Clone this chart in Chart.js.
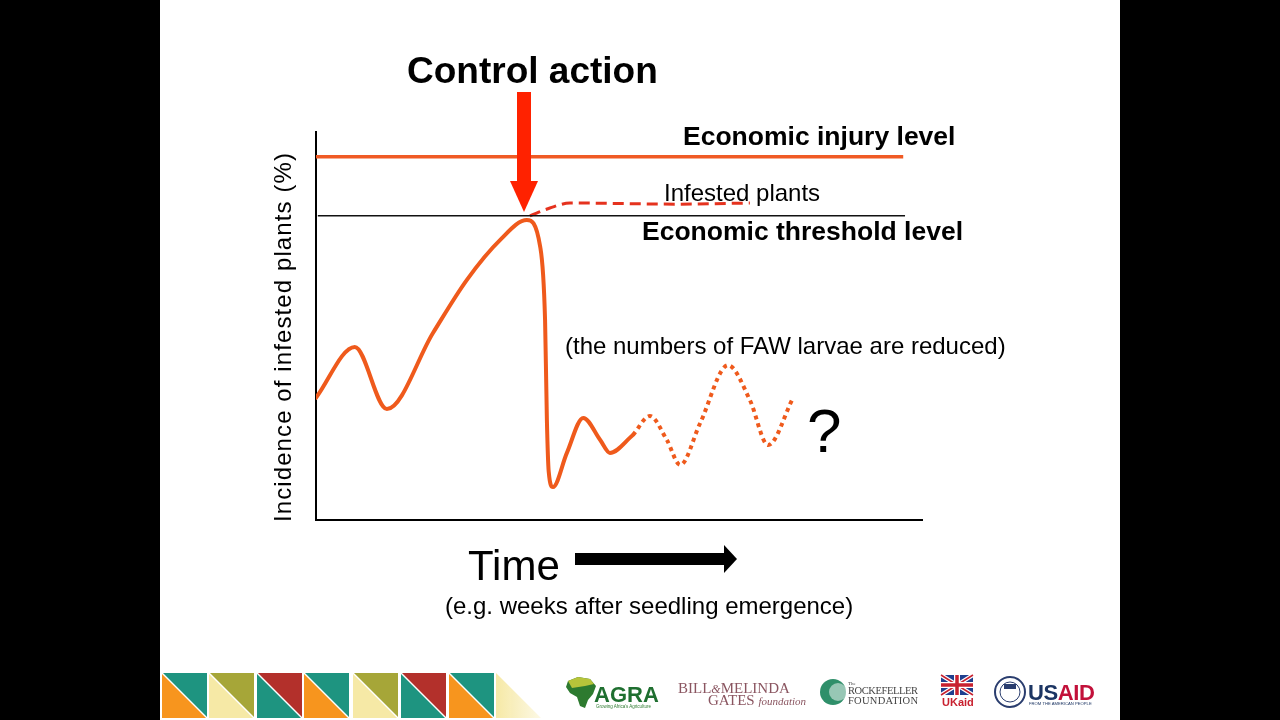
<!DOCTYPE html>
<html><head><meta charset="utf-8">
<script src="https://cdn.jsdelivr.net/npm/chart.js@4.4.1/dist/chart.umd.min.js"></script>
<style>
html,body{margin:0;padding:0;width:1280px;height:720px;overflow:hidden;background:#000;}
#slide{position:absolute;left:160px;top:0;width:960px;height:720px;background:#fff;}
#c{position:absolute;left:0;top:0;}
.t{position:absolute;white-space:nowrap;line-height:1;font-family:"Liberation Sans",Arial,sans-serif;color:#000;}
svg{position:absolute;left:0;top:0;}
</style></head><body>
<div id="slide"></div>
<canvas id="c" width="1280" height="720"></canvas>
<svg width="1280" height="720" id="deco">
  <!-- control action arrow -->
  <rect x="517" y="92" width="14" height="90" fill="#ff2200"/>
  <polygon points="510,181 538,181 524,212" fill="#ff2200"/>
  <!-- time arrow -->
  <rect x="575" y="553" width="151" height="12" fill="#000"/>
  <polygon points="724,545 724,573 737,559" fill="#000"/>
</svg>
<div class="t" id="ctrl" style="left:407px;top:52px;font-size:37px;font-weight:bold;">Control action</div>
<div class="t" style="left:683px;top:123px;font-size:26.5px;font-weight:bold;">Economic injury level</div>
<div class="t" style="left:642px;top:218px;font-size:26.5px;font-weight:bold;">Economic threshold level</div>
<div class="t" style="left:664px;top:181px;font-size:24px;">Infested plants</div>
<div class="t" style="left:565px;top:334px;font-size:24px;">(the numbers of FAW larvae are reduced)</div>
<div class="t" style="left:807px;top:400px;font-size:62px;">?</div>
<div class="t" style="left:468px;top:545px;font-size:42px;">Time</div>
<div class="t" style="left:445px;top:594px;font-size:24px;">(e.g. weeks after seedling emergence)</div>
<div class="t" style="left:283px;top:337px;font-size:24px;letter-spacing:1.1px;transform:translate(-50%,-50%) rotate(-90deg);">Incidence of infested plants (%)</div>

<svg width="1280" height="720" id="footer">
  <defs>
    <linearGradient id="fade" x1="0" x2="1" y1="0" y2="0">
      <stop offset="0" stop-color="#f6e9a6"/>
      <stop offset="1" stop-color="#f6e9a6" stop-opacity="0.3"/>
    </linearGradient>
  </defs>
  <g id="tri"></g>
  <polygon points="496,673 496,718 541,718" fill="url(#fade)"/>
  <!-- AGRA -->
  <path d="M568,681 L578,677 L590,679 L596,686 L593,694 L588,700 L585,708 L580,706 L577,697 L570,693 L566,687 Z" fill="#2d7a2f"/>
  <path d="M568,681 L578,677 L590,679 L594,684 L585,686 L572,688 Z" fill="#b7c43a"/>
  <text x="594" y="702" font-family="Liberation Sans,Arial" font-weight="bold" font-size="22" fill="#1f6f30">AGRA</text>
  <text x="596" y="708" font-family="Liberation Sans,Arial" font-size="4.5" fill="#2d7a2f">Growing Africa's Agriculture</text>
  <!-- Gates -->
  <text x="678" y="693" font-family="Liberation Serif,serif" font-size="15" fill="#8a5560">BILL<tspan font-style="italic" font-size="12">&amp;</tspan>MELINDA</text>
  <text x="708" y="705" font-family="Liberation Serif,serif" font-size="15" fill="#8a5560">GATES <tspan font-style="italic" font-size="11">foundation</tspan></text>
  <!-- Rockefeller -->
  <circle cx="833" cy="692" r="13" fill="#2f8f6a"/>
  <circle cx="838" cy="692" r="9" fill="#ffffff" fill-opacity="0.5"/>
  <text x="848" y="685" font-family="Liberation Serif,serif" font-size="5" fill="#444">The</text>
  <text x="848" y="694" font-family="Liberation Serif,serif" font-size="10.5" fill="#444" textLength="70">ROCKEFELLER</text>
  <text x="848" y="704" font-family="Liberation Serif,serif" font-size="10.5" fill="#444" textLength="70">FOUNDATION</text>
  <!-- UKaid -->
  <rect x="941" y="675" width="32" height="20" fill="#1f3f8f"/>
  <path d="M941,675 L973,695 M973,675 L941,695" stroke="#fff" stroke-width="4"/>
  <path d="M941,675 L973,695 M973,675 L941,695" stroke="#c8202f" stroke-width="1.5"/>
  <path d="M957,675 V695 M941,685 H973" stroke="#fff" stroke-width="6"/>
  <path d="M957,675 V695 M941,685 H973" stroke="#c8202f" stroke-width="3.5"/>
  <text x="942" y="706" font-family="Liberation Sans,Arial" font-weight="bold" font-size="11" fill="#c8202f">UKaid</text>
  <!-- USAID -->
  <circle cx="1010" cy="692" r="15" fill="#fff" stroke="#2a3d6e" stroke-width="2"/>
  <circle cx="1010" cy="692" r="10" fill="#fff" stroke="#2a3d6e" stroke-width="1"/>
  <rect x="1004" y="684" width="12" height="5" fill="#2a3d6e"/>
  <text x="1028" y="700" font-family="Liberation Sans,Arial" font-weight="bold" font-size="22" fill="#1c3563" textLength="67">US<tspan fill="#c2113a">AID</tspan></text>
  <text x="1029" y="705" font-family="Liberation Sans,Arial" font-size="4.2" fill="#1c3563">FROM THE AMERICAN PEOPLE</text>
</svg>

<script>
// ---- data (time in arbitrary units 0-100, incidence in % 0-100) ----
const solidTime      = [0, 6.4, 11.7, 19.3, 24.9, 30.4, 34.8, 37.0, 37.8, 38.1, 38.4, 39.1, 41.4, 44.1, 46.9, 48.5, 52.3];
const solidIncidence = [31.5, 44.6, 28.6, 48.2, 61.9, 72.2, 77.3, 70.4, 51.5, 25.8, 12.5, 8.5, 17.3, 26.3, 20.6, 17.3, 21.9];
const dottedTime      = [52.3, 55.1, 57.9, 60.1, 63.4, 68.0, 71.6, 74.6, 78.7];
const dottedIncidence = [21.9, 26.8, 20.6, 14.2, 25.0, 39.9, 30.9, 19.3, 31.4];
const dashedTime      = [35.3, 38.6, 41.9, 60.1, 71.6];
const dashedIncidence = [78.4, 80.4, 81.7, 81.4, 81.7];
const injuryTime      = [0, 96.9];
const injuryLevel     = [93.6, 93.6];
const thresholdTime   = [0.3, 97.2];
const thresholdLevel  = [78.4, 78.4];

// ---- triangles footer ----
const triColorsTop    = ['#1e9480','#a6a638','#b3302b','#1e9480','#a6a638','#b3302b','#1e9480'];
const triColorsBottom = ['#f7951e','#f6e9a6','#1e9480','#f7951e','#f6e9a6','#1e9480','#f7951e'];
(function(){
  const g = document.getElementById('tri');
  const xs = [162,209,257,304,353,401,449];
  let s = '';
  xs.forEach((x,i)=>{
    s += `<polygon points="${x},673 ${x+45},673 ${x+45},718" fill="${triColorsTop[i]}"/>`;
    s += `<polygon points="${x},673 ${x},718 ${x+45},718" fill="${triColorsBottom[i]}"/>`;
    s += `<line x1="${x}" y1="673" x2="${x+45}" y2="718" stroke="#fff" stroke-width="1.5"/>`;
  });
  g.innerHTML = s;
})();

const zip = (xs, ys) => xs.map((x,i)=>({x, y: ys[i]}));
const ORANGE = '#ef5a1c';

new Chart(document.getElementById('c'), {
  type: 'line',
  data: {
    datasets: [
      { label: 'Economic injury level', data: zip(injuryTime, injuryLevel), borderColor: '#f05a24', borderWidth: 3.5, pointRadius: 0, tension: 0 },
      { label: 'Economic threshold level', data: zip(thresholdTime, thresholdLevel), borderColor: '#111', borderWidth: 1.6, pointRadius: 0, tension: 0 },
      { label: 'Infested plants (no control)', data: zip(dashedTime, dashedIncidence), borderColor: '#e5321e', borderWidth: 3, borderDash: [11, 6], pointRadius: 0, cubicInterpolationMode: 'monotone' },
      { label: 'Infested plants', data: zip(solidTime, solidIncidence), borderColor: ORANGE, borderWidth: 4, pointRadius: 0, cubicInterpolationMode: 'monotone', borderCapStyle: 'round', borderJoinStyle: 'round' },
      { label: 'Infested plants (uncertain)', data: zip(dottedTime, dottedIncidence), borderColor: ORANGE, borderWidth: 4, borderDash: [4, 4], pointRadius: 0, cubicInterpolationMode: 'monotone' }
    ]
  },
  options: {
    responsive: false,
    animation: false,
    devicePixelRatio: 1,
    layout: { padding: { left: 308, right: 358, top: 132, bottom: 192 } },
    plugins: { legend: { display: false }, tooltip: { enabled: false } },
    scales: {
      x: { type: 'linear', min: 0, max: 100, grid: { display: false },
           ticks: { display: false }, border: { display: true, color: '#000', width: 2 } },
      y: { type: 'linear', min: 0, max: 100, grid: { display: false },
           ticks: { display: false }, border: { display: true, color: '#000', width: 2 } }
    }
  }
});
</script>
</body></html>
